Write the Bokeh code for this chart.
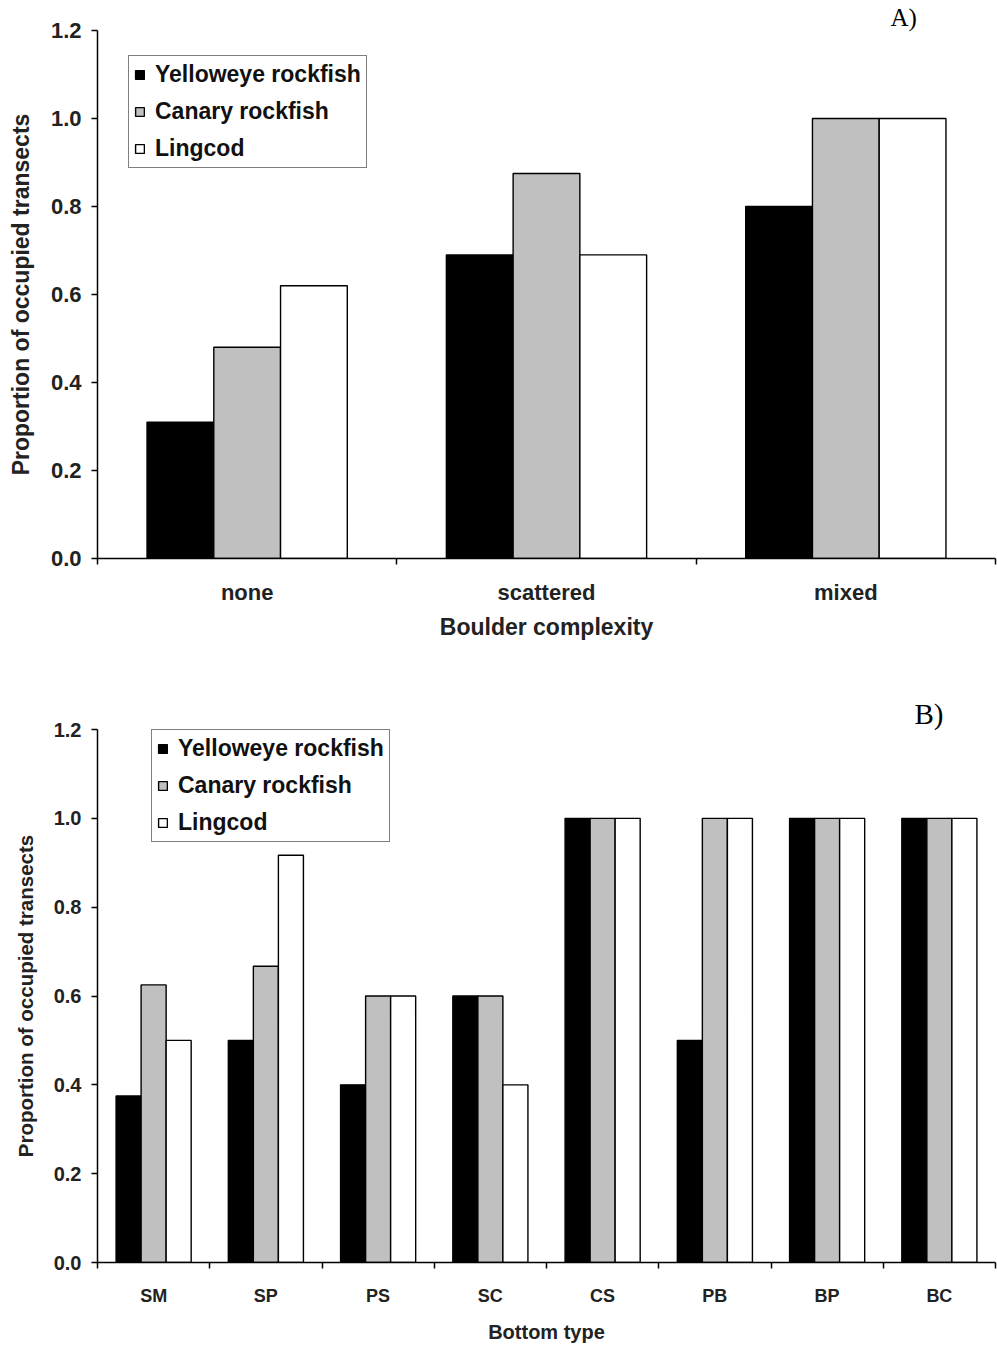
from bokeh.plotting import figure
from bokeh.models import (FixedTicker, Legend, LegendItem, Title,
                          PrintfTickFormatter, Range1d)
from bokeh.layouts import column
from bokeh.embed import file_html
from bokeh.resources import INLINE

# ---- data -------------------------------------------------------------
species = ["Yelloweye rockfish", "Canary rockfish", "Lingcod"]
species_colors = ["#000000", "#c0c0c0", "#ffffff"]

boulder_categories = ["none", "scattered", "mixed"]
boulder_yelloweye = [0.31, 0.69, 0.80]
boulder_canary = [0.48, 0.875, 1.0]
boulder_lingcod = [0.62, 0.69, 1.0]

bottom_categories = ["SM", "SP", "PS", "SC", "CS", "PB", "BP", "BC"]
bottom_yelloweye = [0.375, 0.5, 0.4, 0.6, 1.0, 0.5, 1.0, 1.0]
bottom_canary = [0.625, 0.667, 0.6, 0.6, 1.0, 1.0, 1.0, 1.0]
bottom_lingcod = [0.5, 0.917, 0.6, 0.4, 1.0, 1.0, 1.0, 1.0]

y_ticks = [0.0, 0.2, 0.4, 0.6, 0.8, 1.0, 1.2]

SANS = "Liberation Sans"
SERIF = "Liberation Serif"
BAR_W = 0.223


def grouped_bar_panel(categories, series, x_title, tag, tag_offset,
                      tag_size, height, border_top, border_bottom,
                      border_left, border_right, tick_size, xtick_size,
                      ylabel_size, xtitle_size, legend_loc, xtick_standoff,
                      xtitle_standoff):
    n = len(categories)
    p = figure(width=997, height=height, output_backend="svg",
               toolbar_location=None,
               x_range=Range1d(-0.5, n - 0.5), y_range=Range1d(0, 1.2),
               min_border_top=border_top, min_border_bottom=border_bottom,
               min_border_left=border_left, min_border_right=border_right)
    p.outline_line_color = None
    p.xgrid.visible = False
    p.ygrid.visible = False
    p.background_fill_color = "white"
    p.border_fill_color = "white"

    # panel tag in the upper right, above the plotting area
    p.add_layout(Title(text=tag, align="left", offset=tag_offset,
                       standoff=0, text_font=SERIF, text_font_size=tag_size,
                       text_font_style="normal", text_color="black",
                       vertical_align="bottom"), "above")

    items = []
    for j, (name, vals) in enumerate(zip(species, series)):
        xs = [i + (j - 1) * BAR_W for i in range(n)]
        r = p.vbar(x=xs, top=vals, bottom=0, width=BAR_W,
                   fill_color=species_colors[j], line_color="black",
                   line_width=1.4)
        items.append(LegendItem(label=name, renderers=[r]))

    legend = Legend(items=items, location=legend_loc,
                    label_text_font=SANS, label_text_font_style="bold",
                    label_text_font_size="23px", label_text_color="#111111",
                    glyph_width=11, glyph_height=11, label_height=25,
                    label_standoff=10, spacing=10, padding=5, margin=0,
                    border_line_color="black", border_line_width=1.5,
                    background_fill_color="white", background_fill_alpha=1.0)
    p.add_layout(legend)

    # x axis: labels centred under each group, tick marks between groups
    xa = p.xaxis[0]
    xa.ticker = FixedTicker(ticks=list(range(n)),
                            minor_ticks=[i - 0.5 for i in range(n + 1)])
    xa.major_label_overrides = {i: c for i, c in enumerate(categories)}
    xa.major_tick_line_color = None
    xa.major_tick_in = 0
    xa.major_tick_out = 6
    xa.minor_tick_in = 0
    xa.minor_tick_out = 6
    xa.minor_tick_line_color = "black"
    xa.minor_tick_line_width = 1.5
    xa.axis_line_color = "black"
    xa.axis_line_width = 1.5
    xa.major_label_text_font = SANS
    xa.major_label_text_font_style = "bold"
    xa.major_label_text_font_size = xtick_size
    xa.major_label_text_color = "#222222"
    xa.major_label_standoff = xtick_standoff
    xa.axis_label = x_title
    xa.axis_label_text_font = SANS
    xa.axis_label_text_font_style = "bold"
    xa.axis_label_text_font_size = xtitle_size
    xa.axis_label_text_color = "#222222"
    xa.axis_label_standoff = xtitle_standoff

    ya = p.yaxis[0]
    ya.ticker = FixedTicker(ticks=y_ticks, minor_ticks=[])
    ya.formatter = PrintfTickFormatter(format="%.1f")
    ya.major_tick_in = 0
    ya.major_tick_out = 6
    ya.major_tick_line_color = "black"
    ya.major_tick_line_width = 1.5
    ya.axis_line_color = "black"
    ya.axis_line_width = 1.5
    ya.major_label_text_font = SANS
    ya.major_label_text_font_style = "bold"
    ya.major_label_text_font_size = tick_size
    ya.major_label_text_color = "#222222"
    ya.major_label_standoff = 10
    ya.axis_label = "Proportion of occupied transects"
    ya.axis_label_text_font = SANS
    ya.axis_label_text_font_style = "bold"
    ya.axis_label_text_font_size = ylabel_size
    ya.axis_label_text_color = "#222222"
    ya.axis_label_standoff = 14

    return p


panel_a = grouped_bar_panel(
    boulder_categories, [boulder_yelloweye, boulder_canary, boulder_lingcod],
    "Boulder complexity", "A)", 793, "25px",
    height=680, border_top=30, border_bottom=122, border_left=97,
    border_right=2, tick_size="22px", xtick_size="22px",
    ylabel_size="23px", xtitle_size="23px", legend_loc=(31, 390),
    xtick_standoff=15, xtitle_standoff=6)

panel_b = grouped_bar_panel(
    bottom_categories, [bottom_yelloweye, bottom_canary, bottom_lingcod],
    "Bottom type", "B)", 817, "29px",
    height=665, border_top=49, border_bottom=83, border_left=96,
    border_right=0, tick_size="20px", xtick_size="18px",
    ylabel_size="20.5px", xtitle_size="20px", legend_loc=(54, 420),
    xtick_standoff=17, xtitle_standoff=12)

layout = column(panel_a, panel_b, spacing=0)

with open("out.html", "w") as f:
    f.write(file_html(layout, INLINE))
